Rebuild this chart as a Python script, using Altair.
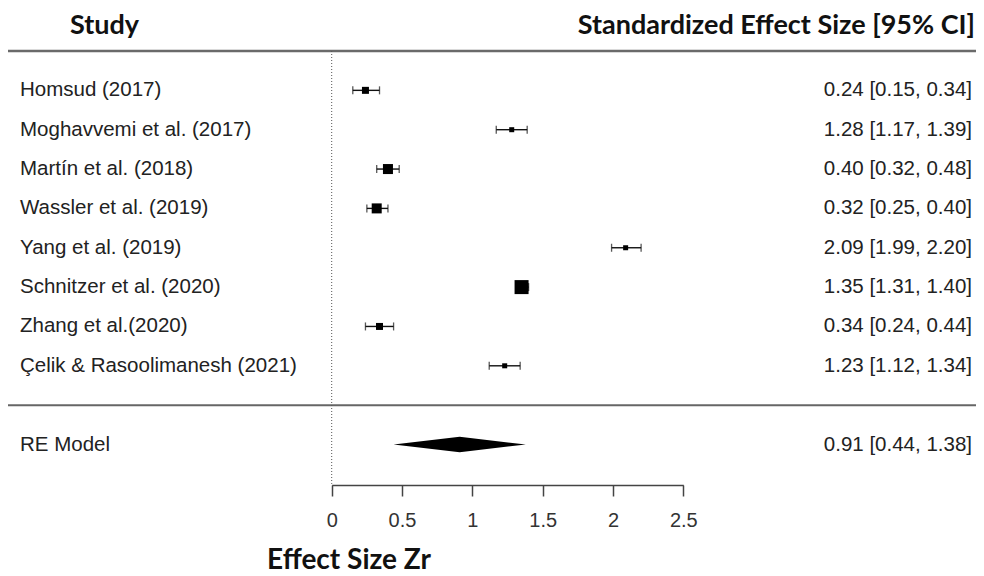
import altair as alt
import pandas as pd

# ---- data ----
studies = [
    "Homsud (2017)",
    "Moghavvemi et al. (2017)",
    "Martín et al. (2018)",
    "Wassler et al. (2019)",
    "Yang et al. (2019)",
    "Schnitzer et al. (2020)",
    "Zhang et al.(2020)",
    "Çelik & Rasoolimanesh (2021)",
]
est = [0.24, 1.28, 0.40, 0.32, 2.09, 1.35, 0.34, 1.23]
lo = [0.15, 1.17, 0.32, 0.25, 1.99, 1.31, 0.24, 1.12]
hi = [0.34, 1.39, 0.48, 0.40, 2.20, 1.40, 0.44, 1.34]
weights = [8.6, 4.4, 17.6, 17.6, 4.4, 34.4, 8.6, 4.4]   # relative weights (%), from square sizes

re_label = "RE Model"
re_est, re_lo, re_hi = 0.91, 0.44, 1.38

x_ticks = [0, 0.5, 1, 1.5, 2, 2.5]

header_left = "Study"
header_right = "Standardized Effect Size [95% CI]"
x_title = "Effect Size Zr"

# ---- tables ----
rows = list(range(1, len(studies) + 1))
re_row = len(studies) + 2

df = pd.DataFrame({"study": studies, "est": est, "lo": lo, "hi": hi, "w": weights, "row": rows})
df["label"] = [f"{e:.2f} [{l:.2f}, {h:.2f}]" for e, l, h in zip(est, lo, hi)]

re_df = pd.DataFrame({"study": [re_label], "row": [re_row],
                      "label": [f"{re_est:.2f} [{re_lo:.2f}, {re_hi:.2f}]"]})
half = 0.195
diamond = pd.DataFrame({"x": [re_lo, re_est, re_hi],
                        "y": [re_row, re_row - half, re_row],
                        "y2": [re_row, re_row + half, re_row]})

W, H = 968, 477
xscale = alt.Scale(domain=[0, 2.5], range=[323.7, 675.3], nice=False, zero=False)
yscale = alt.Scale(domain=[0, 11], range=[43, 475.85], nice=False, zero=False)

xaxis = alt.Axis(values=x_ticks, format="~g", title=None, grid=False, orient="bottom",
                 domainColor="#444", domainWidth=1.5, tickColor="#444", tickWidth=1.5,
                 tickSize=11, labelFont="Liberation Sans", labelFontSize=20,
                 labelColor="#333", labelPadding=14, labelFlush=False, labelOverlap=False)


def X(f):
    return alt.X(f, type="quantitative", scale=xscale, axis=xaxis)


def Y(f):
    return alt.Y(f, type="quantitative", scale=yscale, axis=None)


TXT = dict(font="Liberation Sans", fontSize=20.5, color="#222", baseline="middle")
HDR = dict(font="Lato", fontWeight="bold", color="#111", baseline="alphabetic")

sep_top = alt.Chart(pd.DataFrame({"row": [0]})).mark_rule(color="#6a6a6a", strokeWidth=2.6).encode(
    y=Y("row"), x=alt.value(0), x2=alt.value(W))
sep_bot = alt.Chart(pd.DataFrame({"row": [re_row - 1]})).mark_rule(color="#666", strokeWidth=2).encode(
    y=Y("row"), x=alt.value(0), x2=alt.value(W))

zero_line = alt.Chart(pd.DataFrame({"x": [0], "y": [0], "y2": [11]})).mark_rule(
    color="#555", strokeWidth=1, strokeDash=[1, 2]).encode(x=X("x"), y=Y("y"), y2="y2")

base = alt.Chart(df)
ci = base.mark_rule(color="#111", strokeWidth=1.4).encode(x=X("lo"), x2="hi", y=Y("row"))
cap_lo = base.mark_tick(orient="vertical", color="#111", size=8, thickness=1.3).encode(x=X("lo"), y=Y("row"))
cap_hi = base.mark_tick(orient="vertical", color="#111", size=8, thickness=1.3).encode(x=X("hi"), y=Y("row"))
squares = base.mark_square(color="black", opacity=1).encode(
    x=X("est"), y=Y("row"),
    size=alt.Size("w:Q", scale=alt.Scale(domain=[0, 34.4], range=[0, 196]), legend=None))

dia = alt.Chart(diamond).mark_area(color="black", opacity=1, orient="vertical").encode(
    x=X("x"), y=Y("y"), y2=alt.Y2("y2"))

names = base.mark_text(align="left", **TXT).encode(x=alt.value(12), y=Y("row"), text="study:N")
vals = base.mark_text(align="right", **TXT).encode(x=alt.value(964), y=Y("row"), text="label:N")
re_name = alt.Chart(re_df).mark_text(align="left", **TXT).encode(x=alt.value(12), y=Y("row"), text="study:N")
re_val = alt.Chart(re_df).mark_text(align="right", **TXT).encode(x=alt.value(964), y=Y("row"), text="label:N")

h_left = alt.Chart(pd.DataFrame({"t": [header_left]})).mark_text(align="left", fontSize=27, **HDR).encode(
    x=alt.value(62), y=alt.value(26), text="t:N")
h_right = alt.Chart(pd.DataFrame({"t": [header_right]})).mark_text(align="right", fontSize=27, **HDR).encode(
    x=alt.value(967), y=alt.value(26), text="t:N")
h_x = alt.Chart(pd.DataFrame({"t": [x_title]})).mark_text(align="center", fontSize=28, **HDR).encode(
    x=alt.value(341), y=alt.value(561), text="t:N")

chart = alt.layer(
    sep_top, sep_bot, zero_line, ci, cap_lo, cap_hi, squares, dia,
    names, vals, re_name, re_val, h_left, h_right, h_x
).properties(
    width=W, height=H,
    background="white",
    autosize=alt.AutoSizeParams(type="none"),
    padding={"left": 0, "top": 0, "right": 0, "bottom": 91},
).configure_view(strokeWidth=0, stroke="transparent")

chart.save("out.html", embed_options={"renderer": "svg", "actions": False})
